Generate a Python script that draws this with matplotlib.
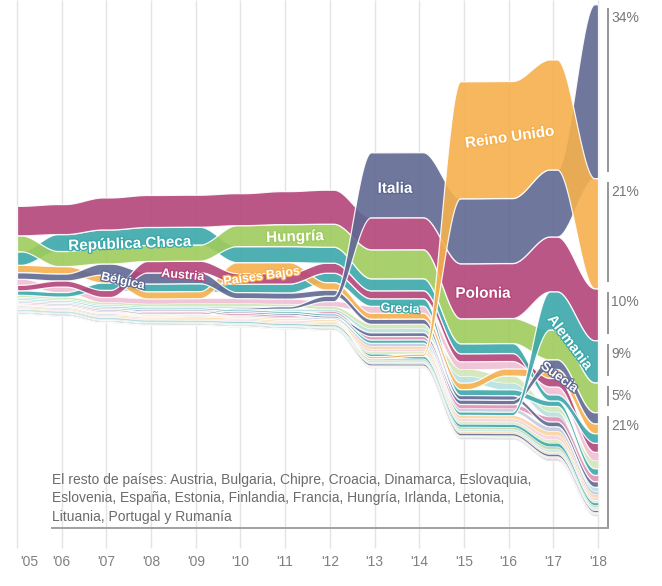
import numpy as np
import matplotlib
matplotlib.use("Agg")
import matplotlib.pyplot as plt
import matplotlib.patheffects as pe

plt.rcParams['font.family'] = ['Liberation Sans', 'DejaVu Sans']

# ---------------- data ----------------
years = list(range(2005, 2019))
year_labels = ["'05", "'06", "'07", "'08", "'09", "'10", "'11", "'12",
               "'13", "'14", "'15", "'16", "'17", "'18"]

polonia    = [29.5, 30, 32, 32, 32, 32, 33, 34, 32, 32, 55, 55, 55, 52]
italia     = [1.4, 1.4, 1.5, 1.5, 1.6, 1.8, 2.5, 5.5, 65, 65, 65, 65, 67, 174]
reino_unido = [1.2, 1.2, 1.3, 1.3, 1.4, 1.4, 1.5, 1.6, 2.2, 2.4, 117, 117, 110, 110]
alemania   = [1.5, 1.5, 1.6, 1.7, 1.7, 1.8, 1.9, 2, 3.2, 3.2, 3.4, 3.4, 38, 42]
hungria    = [16, 15, 16, 16, 16, 21, 22, 23, 29, 29, 25, 25, 30, 30]
rep_checa  = [13.5, 17, 18, 18, 18, 16, 16, 16, 12, 12, 10, 10, 6, 9.5]
belgica    = [6.5, 7, 11, 11, 11, 6, 6, 6, 5, 5, 4.5, 4.5, 4.8, 5.5]
austria    = [5.5, 6, 7, 11.5, 11.5, 10.5, 10.5, 10, 8, 8, 8, 8, 8.5, 9]
paises_bajos = [7.5, 7.5, 8, 7, 7, 11, 11, 7.5, 6, 6, 6.5, 7, 9, 10]
grecia     = [4.5, 4.5, 7.5, 8, 8, 8.5, 9, 9.5, 7.5, 7.5, 6, 6, 5.5, 6.5]
suecia     = [1.5, 1.5, 1.6, 1.7, 1.7, 1.8, 1.9, 2, 3.8, 3.8, 4.4, 4.4, 9.5, 11]
francia    = [6, 5.5, 5, 5, 5, 5, 5, 5, 7, 7, 7.5, 7.5, 8, 8.5]
espana     = [2, 2, 2.1, 2.3, 2.4, 2.5, 2.6, 2.8, 4.5, 4.5, 7, 7, 5.5, 8]
portugal   = [1.6, 1.6, 1.7, 1.8, 1.9, 2, 2.1, 2.3, 4, 4, 6.8, 6.8, 5, 4]
rumania    = [1.4, 1.4, 1.5, 1.6, 1.7, 1.8, 1.9, 2.1, 3.5, 3.5, 4, 4, 5, 6.5]
dinamarca  = [1.2, 1.2, 1.3, 1.4, 1.4, 1.5, 1.6, 1.7, 3, 3, 3.5, 3.5, 4.5, 3.5]
finlandia  = [1.1, 1.1, 1.2, 1.3, 1.3, 1.4, 1.5, 1.5, 2.8, 2.8, 3.2, 3.2, 4.5, 3]
irlanda    = [0.9, 0.9, 1, 1.1, 1.1, 1.2, 1.3, 1.3, 2.6, 2.6, 3, 3, 4, 2.6]
eslovaquia = [0.9, 0.9, 1, 1, 1, 1.1, 1.1, 1.2, 2.5, 2.5, 2.8, 2.8, 3.5, 2.5]
bulgaria   = [0.8, 0.8, 0.9, 0.9, 0.9, 1, 1, 1.1, 2.3, 2.3, 2.6, 2.6, 3.5, 2.5]
letonia    = [0.8, 0.8, 0.8, 0.8, 0.8, 0.9, 0.9, 1, 2, 2, 2.4, 2.4, 3, 2]
lituania   = [0.7, 0.7, 0.7, 0.7, 0.7, 0.8, 0.8, 0.8, 1.8, 1.8, 2.2, 2.2, 2.5, 1.8]
eslovenia  = [0.6, 0.6, 0.6, 0.6, 0.6, 0.7, 0.7, 0.7, 1.6, 1.6, 2, 2, 2.2, 1.6]
estonia    = [0.6, 0.6, 0.6, 0.6, 0.6, 0.6, 0.6, 0.6, 1.5, 1.5, 1.9, 1.9, 2, 1.5]
croacia    = [0.4, 0.4, 0.4, 0.5, 0.5, 0.5, 0.5, 0.5, 0.9, 0.9, 1.2, 1.2, 1.4, 1.2]
chipre     = [0.3, 0.3, 0.3, 0.3, 0.3, 0.3, 0.3, 0.3, 0.7, 0.7, 1, 1, 1.2, 1]
luxemburgo = [0.25, 0.25, 0.25, 0.25, 0.25, 0.3, 0.3, 0.3, 0.5, 0.5, 0.8, 0.8, 1, 0.9]
malta      = [0.2, 0.2, 0.2, 0.2, 0.2, 0.25, 0.25, 0.25, 0.4, 0.4, 0.7, 0.7, 0.9, 0.8]

series = {
    "Polonia": polonia, "Italia": italia, "Reino Unido": reino_unido,
    "Alemania": alemania, "Hungría": hungria, "República Checa": rep_checa,
    "Bélgica": belgica, "Austria": austria, "Países Bajos": paises_bajos,
    "Grecia": grecia, "Suecia": suecia, "Francia": francia, "España": espana,
    "Portugal": portugal, "Rumanía": rumania, "Dinamarca": dinamarca,
    "Finlandia": finlandia, "Irlanda": irlanda, "Eslovaquia": eslovaquia,
    "Bulgaria": bulgaria, "Letonia": letonia, "Lituania": lituania,
    "Eslovenia": eslovenia, "Estonia": estonia, "Croacia": croacia,
    "Chipre": chipre, "Luxemburgo": luxemburgo, "Malta": malta,
}

pct_labels = ["34%", "21%", "10%", "9%", "5%", "21%"]
rest_note = ("El resto de países: Austria, Bulgaria, Chipre, Croacia, Dinamarca, Eslovaquia,\n"
             "Eslovenia, España, Estonia, Finlandia, Francia, Hungría, Irlanda, Letonia,\n"
             "Lituania, Portugal y Rumanía")

# ---------------- styles ----------------
CRIMSON = "#b4457a"
TEAL = "#3ba8aa"
LIME = "#9fcb5d"
ORANGE = "#f5b04d"
SLATE = "#5f6893"
colors = {
    "Polonia": CRIMSON, "Italia": SLATE, "Reino Unido": ORANGE, "Alemania": TEAL,
    "Hungría": LIME, "República Checa": TEAL, "Bélgica": SLATE, "Austria": CRIMSON,
    "Países Bajos": ORANGE, "Grecia": TEAL, "Suecia": SLATE,
    "Francia": "#efbfd3", "España": "#d0e7b6", "Portugal": "#b7e0df",
    "Rumanía": "#e191b4", "Dinamarca": "#c6cade", "Finlandia": "#fad4a0",
    "Irlanda": "#f4d2e0", "Eslovaquia": "#dcecc8", "Bulgaria": TEAL,
    "Letonia": "#c3d6b2", "Lituania": "#c8e8e8", "Eslovenia": "#fbdfba",
    "Estonia": SLATE, "Croacia": "#dcecc8", "Chipre": "#f4d2e0",
    "Luxemburgo": "#8e95b6", "Malta": "#a3b398",
}
main_bands = {"Polonia", "Italia", "Reino Unido", "Alemania", "Hungría",
              "República Checa", "Bélgica", "Austria", "Países Bajos", "Grecia",
              "Suecia"}
draw_order = ["Malta", "Luxemburgo", "Chipre", "Croacia", "Eslovenia", "Lituania",
              "Letonia", "Eslovaquia", "Irlanda", "Finlandia", "Dinamarca",
              "Portugal", "España", "Francia", "Rumanía", "Estonia", "Bulgaria",
              "Grecia", "Países Bajos", "Bélgica", "Austria", "República Checa",
              "Hungría", "Suecia", "Polonia", "Italia", "Alemania", "Reino Unido"]

W, H = 662, 586
fig = plt.figure(figsize=(W / 100, H / 100), dpi=100)
ax = fig.add_axes([0, 0, 1, 1])
X0PX, X1PX = 17, 598
pxyr = (X1PX - X0PX) / (years[-1] - years[0])
ax.set_xlim(years[0] - X0PX / pxyr, years[0] + (W - X0PX) / pxyr)
YC = 260
ax.set_ylim(-(H - YC), YC)
ax.axis('off')


def px2x(px):
    return years[0] + (px - X0PX) / pxyr


def px2y(py):
    return YC - py


names = list(series.keys())
vals = np.array([series[c] for c in names], float)
n = len(years)
tops = np.zeros_like(vals)
bots = np.zeros_like(vals)
for j in range(n):
    order = np.argsort(-vals[:, j], kind='stable')
    cur = vals[:, j].sum() / 2.0
    for i in order:
        tops[i, j] = cur
        cur -= vals[i, j]
        bots[i, j] = cur


def ease(t, h=0.08):
    s = np.clip((t - h) / (1 - 2 * h), 0, 1)
    return s * s * (3 - 2 * s)


NS = 120
xs, seg, ee = [], [], []
for j in range(n - 1):
    t = np.linspace(0, 1, NS, endpoint=False)
    xs.append(years[j] + t)
    seg.append(np.full(NS, j))
    ee.append(ease(t))
xs.append(np.array([years[-1]], float))
seg.append(np.array([n - 2]))
ee.append(np.array([1.0]))
xs = np.concatenate(xs)
seg = np.concatenate(seg)
ee = np.concatenate(ee)


def curve(arr):
    return arr[seg] + (arr[seg + 1] - arr[seg]) * ee


curves = {}
for i, name in enumerate(names):
    curves[name] = (curve(tops[i]), curve(bots[i]))

# grid lines
ax.vlines(years, px2y(548), px2y(0), color='#e4e4e4', lw=1, zorder=0)

for z, name in enumerate(draw_order):
    tp, bt = curves[name]
    lw = 0.9 if name in main_bands else 0.35
    ax.fill_between(xs, bt, tp, facecolor=colors[name], edgecolor='white',
                    linewidth=lw, alpha=0.9, zorder=2 + z * 0.01)

# band labels: text, country, year, dy(px up), rotation, size
band_labels = [
    ("República Checa", "República Checa", 2007.53, -7, 2, 11),
    ("Hungría", "Hungría", 2011.22, -2, 2, 11),
    ("Bélgica", "Bélgica", 2007.37, -10, -12, 9),
    ("Austria", "Austria", 2008.71, -9, -5, 9),
    ("Países Bajos", "Países Bajos", 2010.48, -9, 8, 9),
    ("Italia", "Italia", 2013.46, -4, 0, 11),
    ("Reino Unido", "Reino Unido", 2016.03, 2, 8, 11),
    ("Grecia", "Grecia", 2013.57, -7, -3, 9),
    ("Polonia", "Polonia", 2015.43, -3, 0, 11),
    ("Alemania", "Alemania", 2017.37, -18, -53, 10.5),
    ("Suecia", "Suecia", 2017.13, -13, -36, 9.5),
]
for txt, name, xq, dy, rot, size in band_labels:
    tp, bt = curves[name]
    yc = np.interp(xq, xs, (tp + bt) / 2) + dy
    ax.text(xq, yc, txt, ha='center', va='center', rotation=rot,
            rotation_mode='anchor', color='white', fontsize=size,
            fontweight='bold', zorder=10,
            path_effects=[pe.withStroke(linewidth=1.8, foreground=colors[name])])

# right-hand brackets for 2018
order18 = np.argsort(-vals[:, -1], kind='stable')
xb = px2x(608)
gray = '#8c8c8c'
for k in range(5):
    i = order18[k]
    ytop = tops[i, -1] - 4
    ybot = bots[i, -1] + 6
    ax.plot([xb, xb], [ybot, ytop], color=gray, lw=1.3, solid_capstyle='butt', zorder=5)
    ax.text(px2x(611), ytop - 3, pct_labels[k], ha='left', va='top',
            fontsize=10, color='#777777', zorder=5)
rest_top = tops[order18[5], -1] - 4
line_y = bots[:, -1].min() - 12
ax.plot([xb, xb], [line_y, rest_top], color=gray, lw=1.3, solid_capstyle='butt', zorder=5)
ax.text(px2x(611), rest_top - 3, pct_labels[5], ha='left', va='top',
        fontsize=10, color='#777777', zorder=5)
ax.plot([px2x(52), xb], [line_y, line_y], color='#a0a0a0', lw=1.4, zorder=5)

# note
ax.text(px2x(52), px2y(473), rest_note, ha='left', va='top', fontsize=10,
        color='#6b6b6b', linespacing=1.4, zorder=6)

# x tick labels
for j, (yr, lab) in enumerate(zip(years, year_labels)):
    if j == 0:
        ax.text(px2x(20), px2y(562), lab, ha='left', va='center',
                fontsize=10, color='#808080')
    else:
        ax.text(yr, px2y(562), lab, ha='center', va='center',
                fontsize=10, color='#808080')

fig.savefig("out.png", dpi=100)
